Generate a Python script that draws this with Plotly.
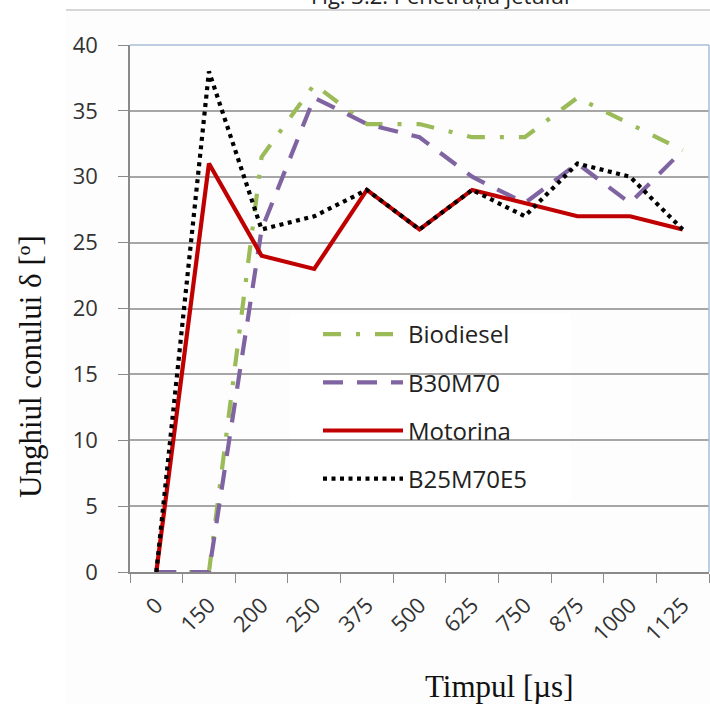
import plotly.graph_objects as go

categories = ["0", "150", "200", "250", "375", "500", "625", "750", "875", "1000", "1125"]
biodiesel = [0, 0, 31.5, 37, 34, 34, 33, 33, 36, 34, 32]
b30m70 = [0, 0, 26, 36, 34, 33, 30, 28, 31, 28, 32]
motorina = [0, 31, 24, 23, 29, 26, 29, 28, 27, 27, 26]
b25m70e5 = [0, 38, 26, 27, 29, 26, 29, 27, 31, 30, 26]

series = [
    ("Biodiesel", biodiesel, "#9BBB59", "18px,15px,4px,15px", 4.2),
    ("B30M70", b30m70, "#8064A2", "20px,14px", 4.2),
    ("Motorina", motorina, "#C00000", "solid", 4.2),
    ("B25M70E5", b25m70e5, "#000000", "4px,4.5px", 4.2),
]

W, H = 710, 704
L, R, T, B = 130, 1, 45, 132
pw = W - L - R
ph = H - T - B

def px_x(x):
    return (x - L) / pw

def px_y(y):
    return (H - B - y) / ph

fig = go.Figure()
for i, (name, vals, color, dash, width) in enumerate(series):
    fig.add_trace(go.Scatter(
        x=categories, y=vals, name=name, mode="lines",
        line=dict(color=color, dash=dash, width=width),
        legendgroup="g%d" % i,
    ))

fig.update_layout(
    width=W, height=H,
    margin=dict(l=L, r=R, t=T, b=B),
    paper_bgcolor="white",
    plot_bgcolor="white",
    showlegend=True,
    legend=dict(
        x=px_x(318), y=px_y(312), xanchor="left", yanchor="top",
        bgcolor="rgba(0,0,0,0)", borderwidth=0,
        font=dict(family="Open Sans", size=24, color="#222"),
        itemwidth=80, tracegroupgap=14, traceorder="grouped",
    ),
    xaxis=dict(
        type="category", categoryorder="array", categoryarray=categories,
        range=[-0.5, 10.5], tickson="boundaries",
        ticks="outside", ticklen=9, tickcolor="#8a8a8a", tickwidth=1.3,
        showline=True, linecolor="#8a8a8a", linewidth=1.5,
        showgrid=False, tickangle=-45, ticklabelstandoff=10,
        tickfont=dict(family="Open Sans", size=22, color="#333"),
    ),
    yaxis=dict(
        range=[0, 40], dtick=5, tick0=0,
        ticks="outside", ticklen=10, tickcolor="#8a8a8a", tickwidth=1.3,
        showline=True, linecolor="#8a8a8a", linewidth=1.5,
        showgrid=True, gridcolor="#a6a6a6", gridwidth=1.5,
        zeroline=False, ticklabelstandoff=16,
        tickfont=dict(family="Open Sans", size=22, color="#333"),
    ),
    shapes=[
        dict(type="rect", xref="paper", yref="paper", layer="below",
             x0=px_x(66), x1=px_x(712), y0=px_y(706), y1=px_y(10),
             fillcolor="#fdfdfd", line=dict(width=0)),
        dict(type="line", xref="paper", yref="paper",
             x0=px_x(66), x1=px_x(712), y0=px_y(10), y1=px_y(10),
             line=dict(color="#c8c8c8", width=1.5)),
        dict(type="rect", xref="paper", yref="paper", layer="between",
             x0=px_x(290), x1=px_x(571), y0=px_y(502), y1=px_y(313),
             fillcolor="white", line=dict(width=0)),
        dict(type="line", xref="paper", yref="paper",
             x0=0, x1=1, y0=1, y1=1, line=dict(color="#a7bcd9", width=1.5)),
        dict(type="line", xref="paper", yref="paper",
             x0=1, x1=1, y0=0, y1=1, line=dict(color="#a7bcd9", width=1.5)),
    ],
    annotations=[
        dict(text="Fig. 3.2. Penetrația jetului", xref="paper", yref="paper",
             x=px_x(440), y=px_y(12), xanchor="center", yanchor="bottom",
             showarrow=False, font=dict(family="Open Sans", size=22, color="#222")),
        dict(text="Unghiul conului δ [º]", xref="paper", yref="paper",
             x=px_x(30), y=px_y(367), xanchor="center", yanchor="middle",
             textangle=-90, showarrow=False,
             font=dict(family="Liberation Serif", size=31, color="#111")),
        dict(text="Timpul [µs]", xref="paper", yref="paper",
             x=px_x(499), y=px_y(686), xanchor="center", yanchor="middle",
             showarrow=False,
             font=dict(family="Liberation Serif", size=31, color="#111")),
    ],
)

fig.write_html("out.html")
